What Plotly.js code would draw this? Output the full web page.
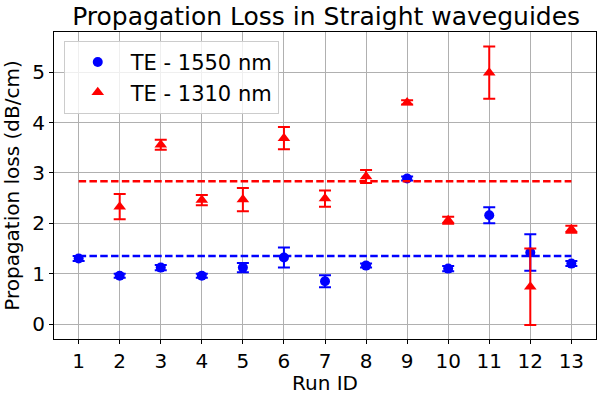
<!DOCTYPE html>
<html>
<head>
<meta charset="utf-8">
<script src="https://cdn.plot.ly/plotly-3.0.1.min.js"></script>
<style>html,body{margin:0;padding:0;background:#fff;}#chart{width:604px;height:395px;}</style>
</head>
<body>
<div id="chart"></div>
<script>
const runIds = [1, 2, 3, 4, 5, 6, 7, 8, 9, 10, 11, 12, 13];
const loss1550 = [1.30, 0.96, 1.12, 0.96, 1.12, 1.32, 0.85, 1.16, 2.89, 1.10, 2.16, 1.42, 1.20];
const err1550  = [0.05, 0.04, 0.05, 0.04, 0.09, 0.20, 0.12, 0.04, 0.04, 0.05, 0.16, 0.36, 0.05];
const runIds1310 = [2, 3, 4, 5, 6, 7, 8, 9, 10, 11, 12, 13];
const loss1310 = [2.33, 3.56, 2.46, 2.47, 3.69, 2.49, 2.93, 4.40, 2.06, 4.99, 0.74, 1.88];
const err1310  = [0.25, 0.10, 0.10, 0.23, 0.22, 0.16, 0.13, 0.04, 0.07, 0.52, 0.76, 0.07];
const tickLabels = runIds.map(String);

const mean = a => a.reduce((s, v) => s + v, 0) / a.length;
const m1550 = mean(loss1550);
const m1310 = mean(loss1310);

const dashStyle = "7.5px,3.3px";
const traces = [
  {x: runIds, y: loss1550, type: 'scatter', mode: 'markers', name: 'TE - 1550 nm',
   marker: {symbol: 'circle', size: 10, color: 'blue'},
   error_y: {type: 'data', array: err1550, visible: true, color: 'blue', thickness: 2, width: 6}},
  {x: runIds1310, y: loss1310, type: 'scatter', mode: 'markers', name: 'TE - 1310 nm',
   marker: {symbol: 'triangle-up', size: 11, color: 'red'},
   error_y: {type: 'data', array: err1310, visible: true, color: 'red', thickness: 2, width: 6}},
  {x: [runIds[0], runIds[runIds.length-1]], y: [m1550, m1550], type: 'scatter', mode: 'lines',
   line: {color: 'blue', width: 2.4, dash: dashStyle}, showlegend: false, hoverinfo: 'skip'},
  {x: [runIds[0], runIds[runIds.length-1]], y: [m1310, m1310], type: 'scatter', mode: 'lines',
   line: {color: 'red', width: 2.4, dash: dashStyle}, showlegend: false, hoverinfo: 'skip'}
];

const axisFont = {family: 'DejaVu Sans', size: 20, color: 'black'};
const layout = {
  width: 604, height: 395,
  margin: {l: 54, r: 8, t: 32, b: 56},
  paper_bgcolor: 'white', plot_bgcolor: 'white',
  font: {family: 'DejaVu Sans', color: 'black'},
  title: {text: 'Propagation Loss in Straight waveguides', font: {family: 'DejaVu Sans', size: 25, color: 'black'},
          x: 0.54, xanchor: 'center', y: 0.98, yanchor: 'top'},
  xaxis: {range: [0.4, 13.6], tickmode: 'array', tickvals: runIds, ticktext: tickLabels,
          showgrid: true, gridcolor: '#b0b0b0', gridwidth: 1, zeroline: false,
          showline: true, linecolor: 'black', linewidth: 1, mirror: true,
          ticks: 'outside', ticklen: 4, tickcolor: 'black', tickfont: axisFont,
          title: {text: 'Run ID', font: axisFont, standoff: 6}},
  yaxis: {range: [-0.297, 5.797], tickmode: 'array', tickvals: [0,1,2,3,4,5],
          showgrid: true, gridcolor: '#b0b0b0', gridwidth: 1, zeroline: false,
          showline: true, linecolor: 'black', linewidth: 1, mirror: true,
          ticks: 'outside', ticklen: 4, tickcolor: 'black', tickfont: axisFont,
          title: {text: 'Propagation loss (dB/cm)', font: axisFont, standoff: 8}},
  legend: {x: 0.018, y: 0.971, xanchor: 'left', yanchor: 'top',
           bgcolor: 'rgba(255,255,255,0.8)', bordercolor: '#cccccc', borderwidth: 1,
           font: {family: 'DejaVu Sans', size: 21, color: 'black'}, itemwidth: 56},
  showlegend: true
};
Plotly.newPlot('chart', traces, layout, {displayModeBar: false, staticPlot: true});
</script>
</body>
</html>
